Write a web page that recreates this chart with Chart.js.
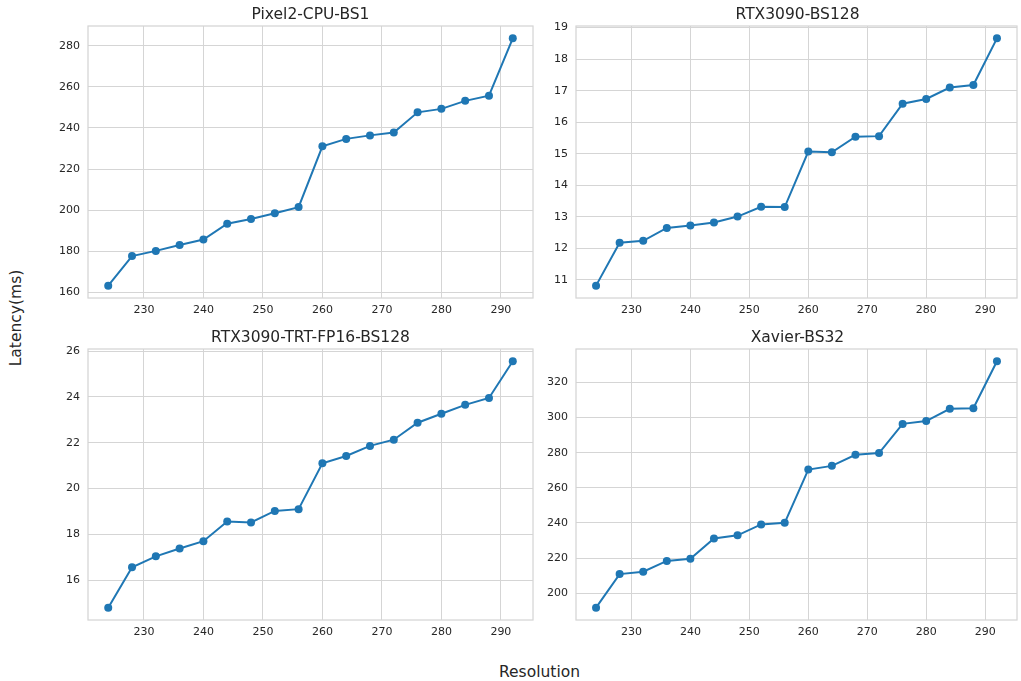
<!DOCTYPE html>
<html>
<head>
<meta charset="utf-8">
<script src="https://cdn.jsdelivr.net/npm/chart.js@4/dist/chart.umd.min.js"></script>
<style>
  body { margin: 0; background: #fff; width: 1021px; height: 681px; position: relative; overflow: hidden; font-family: "DejaVu Sans", sans-serif; color: #262626; }
  canvas { position: absolute; }
  .lbl { position: absolute; font-size: 15.5px; line-height: 18px; white-space: nowrap; }
  .ttl { position: absolute; font-size: 15.5px; line-height: 18px; text-align: center; white-space: nowrap; }
</style>
</head>
<body>
<canvas id="c0" width="500" height="320" style="left:40px;top:0px"></canvas>
<canvas id="c1" width="481" height="320" style="left:540px;top:0px"></canvas>
<canvas id="c2" width="500" height="319" style="left:40px;top:323px"></canvas>
<canvas id="c3" width="481" height="319" style="left:540px;top:323px"></canvas>
<div class="ttl" id="t0" style="left:88px;width:445px;top:5px"></div>
<div class="ttl" id="t1" style="left:576px;width:443px;top:5px"></div>
<div class="ttl" id="t2" style="left:88px;width:445px;top:328px"></div>
<div class="ttl" id="t3" style="left:576px;width:443px;top:328px"></div>
<div class="lbl" style="left:0;width:1021px;text-align:center;top:663px;padding-left:58px;box-sizing:border-box">Resolution</div>
<div class="lbl" style="left:-34px;top:309px;width:100px;text-align:center;transform:rotate(-90deg);transform-origin:center">Latency(ms)</div>

<script>
// chart data
const resolutions = [224, 228, 232, 236, 240, 244, 248, 252, 256, 260, 264, 268, 272, 276, 280, 284, 288, 292];

const pixel2Cpu = [163.3, 177.7, 180.2, 183.1, 185.7, 193.4, 195.7, 198.5, 201.5, 231.1, 234.7, 236.4, 237.8, 247.6, 249.3, 253.2, 255.7, 283.6];
const rtx3090 = [10.82, 12.18, 12.24, 12.65, 12.73, 12.82, 13.01, 13.32, 13.31, 15.07, 15.05, 15.54, 15.56, 16.59, 16.74, 17.10, 17.18, 18.66];
const rtx3090Trt = [14.80, 16.56, 17.04, 17.38, 17.70, 18.56, 18.52, 19.02, 19.10, 21.10, 21.42, 21.86, 22.13, 22.87, 23.26, 23.65, 23.95, 25.55];
const xavier = [191.8, 210.9, 212.3, 218.4, 219.6, 231.2, 233.0, 239.2, 240.1, 270.4, 272.5, 278.8, 279.8, 296.4, 298.0, 305.0, 305.3, 332.0];

const titles = ["Pixel2-CPU-BS1", "RTX3090-BS128", "RTX3090-TRT-FP16-BS128", "Xavier-BS32"];
const seriesList = [pixel2Cpu, rtx3090, rtx3090Trt, xavier];
const yStep = [20, 1, 2, 20];

const GRID = '#d5d5d5';
const TEXT = '#262626';

// matplotlib style frame around the plot area
const framePlugin = {
    id: 'frame',
    beforeDatasetsDraw(chart) {
        const a = chart.chartArea;
        const ctx = chart.ctx;
        ctx.save();
        ctx.strokeStyle = GRID;
        ctx.lineWidth = 1.25;
        ctx.strokeRect(a.left, a.top, a.right - a.left, a.bottom - a.top);
        ctx.restore();
    }
};

function makeChart(idx, yAxisWidth, padRight) {
    document.getElementById('t' + idx).textContent = titles[idx];
    const vals = seriesList[idx];
    const points = resolutions.map((r, i) => ({ x: r, y: vals[i] }));
    const lo = Math.min(...vals), hi = Math.max(...vals);
    const m = (hi - lo) * 0.05;
    const xm = (resolutions[resolutions.length - 1] - resolutions[0]) * 0.05;

    new Chart(document.getElementById('c' + idx), {
        type: 'line',
        data: {
            datasets: [{
                data: points,
                borderColor: '#1f77b4',
                backgroundColor: '#1f77b4',
                borderWidth: 2,
                pointRadius: 4,
                pointBorderWidth: 0,
                pointBackgroundColor: '#1f77b4',
                tension: 0,
            }]
        },
        options: {
            responsive: false,
            animation: false,
            layout: { padding: { left: 0, right: padRight, top: 26, bottom: 0 } },
            plugins: {
                legend: { display: false },
                tooltip: { enabled: false },
                title: { display: false },
            },
            scales: {
                x: {
                    type: 'linear',
                    min: resolutions[0] - xm,
                    max: resolutions[resolutions.length - 1] + xm,
                    afterFit: (s) => { s.height = 22; },
                    grid: { color: GRID, lineWidth: 1, drawTicks: false },
                    border: { display: false },
                    ticks: {
                        stepSize: 10,
                        includeBounds: false,
                        padding: 6,
                        color: TEXT,
                        maxRotation: 0,
                        font: { family: 'DejaVu Sans', size: 11 },
                    },
                },
                y: {
                    min: lo - m,
                    max: hi + m,
                    afterFit: (s) => { s.width = yAxisWidth; },
                    grid: { color: GRID, lineWidth: 1, drawTicks: false },
                    border: { display: false },
                    ticks: {
                        stepSize: yStep[idx],
                        includeBounds: false,
                        padding: 8,
                        color: TEXT,
                        font: { family: 'DejaVu Sans', size: 11 },
                    },
                },
            },
        },
        plugins: [framePlugin],
    });
}

makeChart(0, 48, 7);
makeChart(1, 36, 2);
makeChart(2, 48, 7);
makeChart(3, 36, 2);
</script>
</body>
</html>
